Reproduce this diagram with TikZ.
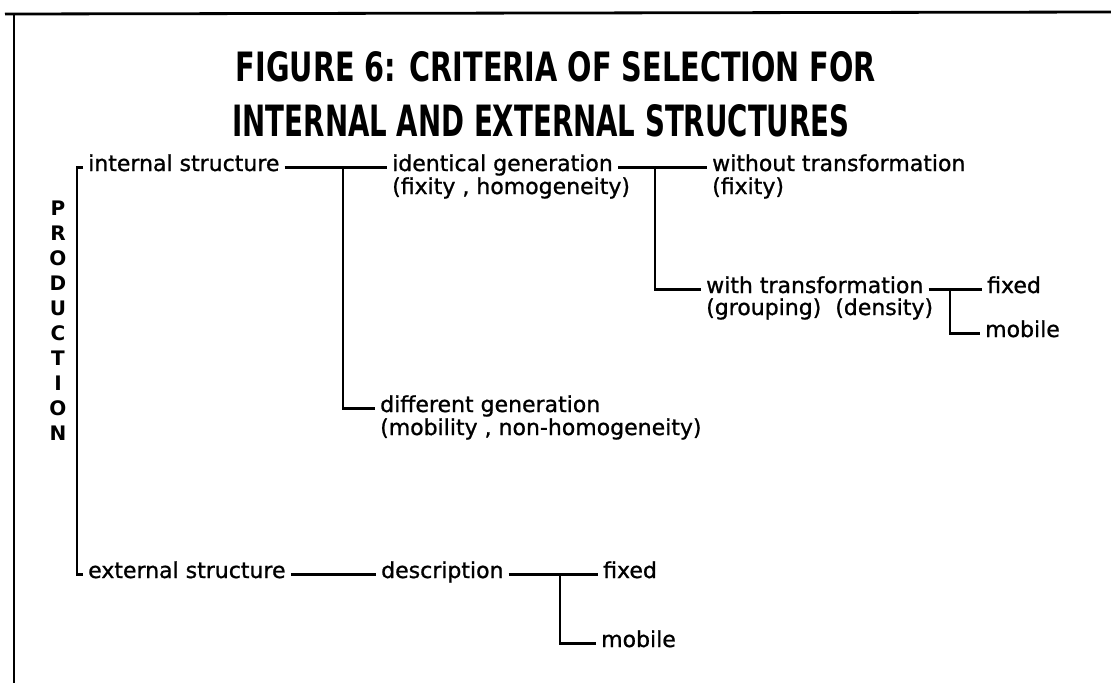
\documentclass[tikz,border=0pt]{standalone}
\usepackage{fontspec}
\usepackage{graphicx}
\setmainfont{DejaVu Sans}
\newfontfamily\labfont[FakeBold=1.0]{DejaVu Sans}
\begin{document}
\begin{tikzpicture}[x=1pt,y=-1pt,
  lbl/.style={font=\labfont\fontsize{22}{26}\selectfont, anchor=base west, inner xsep=5pt, inner ysep=0pt, text height=0.92em, text depth=0.25em},
  titlestyle/.style={font=\bfseries, inner sep=0pt},
  prodstyle/.style={font=\bfseries\fontsize{20}{25}\selectfont, align=center, inner sep=0pt},
  conn/.style={line width=2.7pt},
  framestyle/.style={line width=2.8pt}]
\useasboundingbox (0,0) rectangle (1111,683);
% frame
\coordinate (fa) at (5,14);
\coordinate (fb) at (1111,12);
\coordinate (fc) at (14,14);
\coordinate (fd) at (14,683);
\draw[framestyle] (fa) -- (fb);
\draw[framestyle] (fc) -- (fd);
% title
\node[titlestyle] (title1) at (556,67) {\resizebox{640pt}{30pt}{FIGURE 6: CRITERIA OF SELECTION FOR}};
\node[titlestyle] (title2) at (541,121) {\resizebox{617pt}{32pt}{INTERNAL AND EXTERNAL STRUCTURES}};
% vertical label
\node[prodstyle] (prod) at (58,321) {P\\R\\O\\D\\U\\C\\T\\I\\O\\N};
% labels
\node[lbl] (is) at (83,171) {internal structure};
\node[lbl] (ig) at (387,171) {identical generation};
\node[lbl] (igp) at (387,194) {(fixity , homogeneity)};
\node[lbl] (wo) at (707,171) {without transformation};
\node[lbl] (wop) at (707,194) {(fixity)};
\node[lbl] (wt) at (701,293) {with transformation};
\node[lbl] (wtp) at (701,315) {(grouping)\ \ (density)};
\node[lbl] (f1) at (982,293) {fixed};
\node[lbl] (m1) at (980,337) {mobile};
\node[lbl] (dg) at (375,412) {different generation};
\node[lbl] (dgp) at (375,435) {(mobility , non-homogeneity)};
\node[lbl] (es) at (83,578) {external structure};
\node[lbl] (de) at (376,578) {description};
\node[lbl] (f2) at (598,578) {fixed};
\node[lbl] (m2) at (596,647) {mobile};
% junction columns
\coordinate (tx) at (77,0);
\coordinate (j1) at (343,0);
\coordinate (j2) at (655,0);
\coordinate (j3) at (950,0);
\coordinate (j4) at (560,0);
% connectors
\draw[conn] (is.west) -- (tx |- is.west) -- (tx |- es.west) -- (es.west);
\draw[conn] (is.east) -- (ig.west);
\draw[conn] (j1 |- is.east) |- (dg.west);
\draw[conn] (ig.east) -- (wo.west);
\draw[conn] (j2 |- ig.east) |- (wt.west);
\draw[conn] (wt.east) -- (f1.west);
\draw[conn] (j3 |- wt.east) |- (m1.west);
\draw[conn] (es.east) -- (de.west);
\draw[conn] (de.east) -- (f2.west);
\draw[conn] (j4 |- de.east) |- (m2.west);
\end{tikzpicture}
\end{document}
